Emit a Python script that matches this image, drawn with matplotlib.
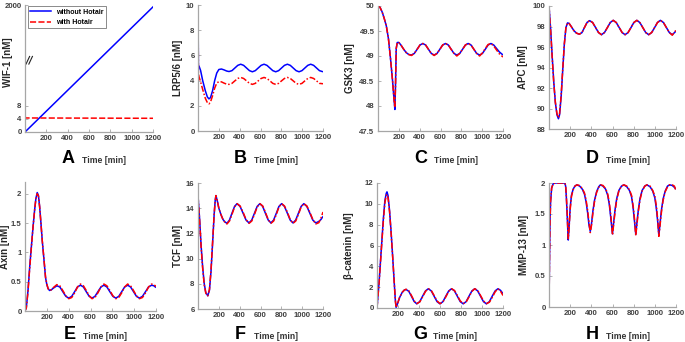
import numpy as np
import matplotlib
matplotlib.use("Agg")
import matplotlib.pyplot as plt
from matplotlib.ticker import FuncFormatter

plt.rcParams['font.family'] = ['Liberation Sans', 'DejaVu Sans']
plt.rcParams['font.weight'] = 'bold'

# ---- A: WIF-1 ----
wif_t_blue = [0, 1200]
wif_blue = [0, 1960]
wif_t_red = [0, 3, 1200]
wif_red = [10, 4.3, 4.2]

# ---- B: LRP5/6 ----
lrp_t = [0, 4, 10, 25, 45, 70, 90, 105, 120, 140, 160, 180, 200, 225, 250, 275, 298,
         326, 354, 382, 410, 438, 466, 494, 522, 550, 578, 606, 634, 662, 690, 718,
         746, 774, 802, 830, 858, 886, 914, 942, 970, 998, 1026, 1054, 1082, 1110,
         1138, 1166, 1200]
lrp_blue = [10, 5.2, 5.15, 4.8, 4.0, 3.2, 2.7, 2.55, 2.65, 3.2, 4.0, 4.6, 4.88, 4.92, 4.85, 4.76, 4.72,
            4.79, 5.0, 5.21, 5.3, 5.21, 5.0, 4.79, 4.7, 4.79, 5.0, 5.21, 5.3, 5.21, 5.0, 4.79,
            4.7, 4.79, 5.0, 5.21, 5.3, 5.21, 5.0, 4.79, 4.7, 4.79, 5.0, 5.21, 5.3, 5.21,
            5.0, 4.79, 4.7]
lrp_red = [10, 4.6, 4.3, 3.9, 3.3, 2.6, 2.25, 2.15, 2.3, 2.8, 3.4, 3.8, 3.92, 3.9, 3.8, 3.72, 3.7,
           3.78, 3.98, 4.17, 4.25, 4.17, 3.98, 3.78, 3.7, 3.78, 3.98, 4.17, 4.25, 4.17, 3.98, 3.78,
           3.7, 3.78, 3.98, 4.17, 4.25, 4.17, 3.98, 3.78, 3.7, 3.78, 3.98, 4.17, 4.25, 4.17,
           3.98, 3.78, 3.75]

# ---- C: GSK3 ----
gsk_t = [0, 20, 40, 60, 80, 100, 120, 140, 155, 162, 168, 175, 185, 200, 220, 245, 270, 295,
         321, 348, 376, 403, 430, 457, 484, 512, 539, 566, 594, 621, 648, 675, 702, 730,
         757, 784, 812, 839, 866, 893, 920, 948, 975, 1002, 1030, 1057, 1084, 1111,
         1138, 1166, 1200]
gsk_blue = [50.0, 49.97, 49.88, 49.75, 49.6, 49.35, 48.95, 48.5, 48.1, 47.93, 48.4, 49.15, 49.27, 49.27,
            49.22, 49.14, 49.07, 49.03,
            49.02, 49.05, 49.135, 49.22, 49.25, 49.22, 49.135, 49.05, 49.02, 49.05, 49.135, 49.22,
            49.25, 49.22, 49.135, 49.05, 49.02, 49.05, 49.135, 49.22, 49.25, 49.22, 49.135,
            49.05, 49.02, 49.05, 49.135, 49.22, 49.25, 49.22, 49.15, 49.08, 49.02]
gsk_red = [50.0, 49.97, 49.88, 49.75, 49.6, 49.35, 48.95, 48.5, 48.1, 47.97, 48.4, 49.15, 49.27, 49.27,
           49.22, 49.14, 49.07, 49.03,
           49.01, 49.05, 49.135, 49.22, 49.25, 49.22, 49.135, 49.05, 49.01, 49.05, 49.135, 49.22,
           49.25, 49.22, 49.135, 49.05, 49.0, 49.05, 49.135, 49.22, 49.25, 49.22, 49.135,
           49.05, 49.0, 49.06, 49.15, 49.23, 49.25, 49.2, 49.12, 49.04, 48.98]

# ---- D: APC ----
apc_t = [0, 15, 30, 45, 60, 75, 89, 100, 115, 130, 145, 160, 175, 190, 210, 235, 260, 287,
         311, 335, 360, 384, 412, 440, 468, 496, 524, 552, 579, 607, 635, 663, 691, 719,
         747, 775, 802, 830, 858, 886, 914, 942, 970, 998, 1025, 1053, 1081, 1109, 1137,
         1165, 1200]
apc_blue = [100, 97.8, 95.1, 92.6, 90.6, 89.4, 89.0, 89.4, 91.2, 93.8, 96.3, 97.9, 98.35, 98.3, 98.0,
            97.6, 97.35, 97.25,
            97.4, 97.9, 98.4, 98.57, 98.39, 97.9, 97.41, 97.2, 97.41, 97.9, 98.39, 98.6, 98.39,
            97.9, 97.41, 97.2, 97.41, 97.9, 98.39, 98.6, 98.39, 97.9, 97.41, 97.2, 97.41, 97.9,
            98.39, 98.6, 98.39, 97.9, 97.41, 97.2, 97.55]
apc_red = [100, 97.7, 95.0, 92.5, 90.6, 89.5, 89.1, 89.5, 91.3, 93.9, 96.3, 97.9, 98.35, 98.3, 98.0,
           97.6, 97.35, 97.25,
           97.4, 97.9, 98.4, 98.57, 98.39, 97.9, 97.41, 97.2, 97.41, 97.9, 98.39, 98.6, 98.39,
           97.9, 97.41, 97.2, 97.41, 97.9, 98.39, 98.6, 98.39, 97.9, 97.41, 97.2, 97.41, 97.9,
           98.39, 98.6, 98.39, 97.9, 97.41, 97.15, 97.65]

# ---- E: Axin ----
axin_t = [0, 12, 27, 43, 58, 73, 88, 100, 112, 123, 134, 146, 158, 173, 188, 200, 212, 225, 240,
          260, 292, 319, 346, 374, 401, 428, 455, 481, 508, 535, 561, 588, 614, 641, 668,
          696, 723, 750, 777, 805, 832, 859, 886, 913, 940, 967, 994, 1021, 1048, 1076,
          1104, 1132, 1160, 1180, 1200]
axin_blue = [0, 0.06, 0.34, 0.75, 1.09, 1.42, 1.72, 1.92, 2.02, 1.97, 1.78, 1.5, 1.2, 0.89, 0.57,
             0.45, 0.38, 0.35, 0.36, 0.39, 0.43, 0.41, 0.33, 0.25, 0.22, 0.25, 0.33, 0.41, 0.44,
             0.41, 0.33, 0.25, 0.22, 0.25, 0.33, 0.41, 0.44, 0.41, 0.33, 0.25, 0.22, 0.25, 0.33,
             0.41, 0.44, 0.41, 0.33, 0.25, 0.22, 0.25, 0.33, 0.41, 0.44, 0.43, 0.40]
axin_red = [0, 0.05, 0.32, 0.73, 1.08, 1.42, 1.72, 1.92, 2.0, 1.96, 1.78, 1.5, 1.2, 0.9, 0.58,
            0.46, 0.38, 0.35, 0.36, 0.4, 0.45, 0.43, 0.35, 0.26, 0.21, 0.23, 0.31, 0.41, 0.46,
            0.43, 0.35, 0.26, 0.21, 0.23, 0.31, 0.41, 0.46, 0.43, 0.35, 0.26, 0.21, 0.23, 0.31,
            0.41, 0.46, 0.43, 0.35, 0.26, 0.21, 0.23, 0.31, 0.41, 0.46, 0.45, 0.42]

# ---- F: TCF ----
tcf_t = [0, 15, 30, 45, 60, 75, 94, 110, 125, 140, 155, 165, 172, 185, 200, 220, 240, 260, 278,
         302, 326, 351, 375, 404, 433, 461, 490, 516, 542, 568, 594, 621, 647, 674, 700,
         726, 752, 777, 803, 830, 858, 885, 912, 938, 964, 990, 1016, 1045, 1074, 1102,
         1131, 1160, 1180, 1200]
tcf_blue = [15.0, 13.2, 11.0, 9.3, 8.0, 7.3, 7.05, 7.5, 9.0, 11.2, 13.5, 14.6, 15.0, 14.6, 14.0,
            13.5, 13.1, 12.9, 12.8, 13.06, 13.6, 14.14, 14.36, 14.14, 13.6, 13.06, 12.83, 13.06,
            13.6, 14.14, 14.36, 14.14, 13.6, 13.06, 12.83, 13.06, 13.6, 14.14, 14.36, 14.14,
            13.6, 13.06, 12.83, 13.06, 13.6, 14.14, 14.36, 14.14, 13.6, 13.06, 12.83, 12.95,
            13.1, 13.35]
tcf_red = [15.0, 13.1, 10.9, 9.2, 7.9, 7.25, 7.05, 7.55, 9.1, 11.3, 13.5, 14.6, 15.0, 14.6, 14.0,
           13.5, 13.1, 12.85, 12.75, 12.98, 13.5, 14.1, 14.36, 14.18, 13.68, 13.1, 12.8, 12.98,
           13.5, 14.1, 14.36, 14.18, 13.68, 13.1, 12.8, 12.98, 13.5, 14.1, 14.36, 14.18,
           13.68, 13.1, 12.8, 12.98, 13.5, 14.1, 14.36, 14.18, 13.68, 13.1, 12.75, 12.85,
           13.2, 13.7]

# ---- G: beta-catenin ----
bcat_t = [0, 20, 40, 60, 75, 88, 95, 105, 120, 135, 150, 165, 175, 182, 195, 215, 240, 260, 277,
          303, 328, 354, 379, 407, 434, 462, 489, 517, 544, 572, 600, 628, 655, 683, 710,
          738, 765, 793, 821, 849, 876, 904, 931, 959, 986, 1014, 1042, 1070, 1097, 1125,
          1152, 1176, 1200]
bcat_blue = [0, 2.5, 5.5, 8.5, 10.3, 11.0, 11.15, 10.8, 9.3, 7.2, 4.8, 2.3, 0.7, 0.05, 0.4, 1.0,
             1.5, 1.72, 1.78, 1.6, 1.13, 0.62, 0.4, 0.61, 1.13, 1.64, 1.85, 1.64, 1.13, 0.61, 0.4,
             0.61, 1.13, 1.64, 1.85, 1.64, 1.13, 0.61, 0.4, 0.61, 1.13, 1.64, 1.85, 1.64, 1.13,
             0.61, 0.4, 0.61, 1.13, 1.64, 1.85, 1.7, 1.38]
bcat_red = [0, 2.4, 5.4, 8.3, 10.1, 10.8, 10.9, 10.6, 9.2, 7.1, 4.8, 2.3, 0.7, 0.05, 0.4, 1.0,
            1.5, 1.72, 1.8, 1.65, 1.2, 0.68, 0.42, 0.58, 1.06, 1.6, 1.85, 1.68, 1.2, 0.68, 0.42,
            0.58, 1.06, 1.6, 1.85, 1.68, 1.2, 0.68, 0.42, 0.58, 1.06, 1.6, 1.85, 1.68, 1.2,
            0.68, 0.42, 0.55, 1.0, 1.55, 1.85, 1.62, 1.2]

# ---- H: MMP-13 ----
mmp_t = [0, 5, 10, 15, 25, 40, 60, 150, 157, 163, 170, 176, 182, 190, 200, 212, 228, 245, 263,
         290, 315, 335, 350, 365, 378, 390, 402, 415, 430, 450, 470, 486, 510, 535, 555, 570,
         585, 600, 612, 625, 640, 660, 685, 708, 735, 760, 780, 795, 808, 820, 832, 845,
         860, 880, 905, 925, 955, 980, 1000, 1015, 1028, 1038, 1050, 1063, 1078, 1098,
         1120, 1140, 1165, 1185, 1200]
mmp_blue = [0, 0.8, 1.4, 1.7, 1.92, 1.99, 2.0, 2.0, 1.95, 1.8, 1.55, 1.3, 1.08, 1.3, 1.6, 1.8, 1.9,
            1.95, 1.97, 1.95, 1.9, 1.82, 1.7, 1.52, 1.32, 1.22, 1.35, 1.55, 1.72, 1.86, 1.94,
            1.97, 1.95, 1.9, 1.8, 1.65, 1.42, 1.18, 1.38, 1.58, 1.75, 1.88, 1.95, 1.97, 1.94,
            1.88, 1.78, 1.6, 1.38, 1.17, 1.38, 1.58, 1.75, 1.88, 1.95, 1.97, 1.94, 1.87, 1.76,
            1.58, 1.36, 1.15, 1.36, 1.57, 1.74, 1.87, 1.95, 1.97, 1.96, 1.93, 1.9]
mmp_red = [0, 0.78, 1.38, 1.7, 1.92, 1.99, 2.0, 2.0, 1.96, 1.82, 1.58, 1.33, 1.1, 1.28, 1.57, 1.78,
           1.89, 1.95, 1.97, 1.96, 1.91, 1.84, 1.73, 1.56, 1.36, 1.2, 1.32, 1.52, 1.7, 1.85,
           1.93, 1.97, 1.96, 1.91, 1.82, 1.68, 1.46, 1.16, 1.35, 1.55, 1.73, 1.87, 1.95, 1.97, 1.95,
           1.89, 1.8, 1.63, 1.42, 1.15, 1.35, 1.55, 1.73, 1.87, 1.95, 1.97, 1.95, 1.88, 1.79, 1.62,
           1.4, 1.14, 1.33, 1.54, 1.72, 1.86, 1.94, 1.97, 1.97, 1.95, 1.87]

BLUE = '#0000ff'
RED = '#ff0000'
SPINE = '#a6a6a6'
TXT = '#404040'
RED_LS = (0, (4, 1.3, 1, 1.3))

W, H = 685, 342
fig = plt.figure(figsize=(W / 100, H / 100), dpi=100)


def add_panel(l, r, t, b):
    return fig.add_axes([l / W, 1 - b / H, (r - l) / W, (b - t) / H])


def style(ax, ylabel, letter, ylab_x, base_px):
    for s in ('top', 'right'):
        ax.spines[s].set_visible(False)
    for s in ('left', 'bottom'):
        ax.spines[s].set_color(SPINE)
        ax.spines[s].set_linewidth(0.9)
    ax.set_xlim(0, 1200)
    ax.set_xticks([200, 400, 600, 800, 1000, 1200])
    ax.tick_params(direction='in', length=2, width=0.6, color=SPINE,
                   labelsize=5.6, labelcolor=TXT, pad=2.5)
    for lab in ax.get_xticklabels() + ax.get_yticklabels():
        lab.set_fontweight('bold')
    ax.yaxis.set_major_formatter(FuncFormatter(lambda v, p: '{:g}'.format(v)))
    ax.set_ylabel(ylabel, fontsize=7, fontweight='bold', color='#262626')
    ax.yaxis.set_label_coords(ylab_x, 0.5)
    # panel letter and x-label share a baseline given in figure pixels
    x0, x1 = ax.get_position().x0, ax.get_position().x1
    yb = 1 - base_px / H
    fig.text(x0 + 0.34 * (x1 - x0), yb, letter, fontsize=13, fontweight='bold',
             ha='center', va='baseline', color='black')
    fig.text(x0 + 0.445 * (x1 - x0), yb, 'Time [min]', fontsize=6.2,
             fontweight='bold', ha='left', va='baseline', color='#333333')


def draw(ax, t_b, yb, t_r, yr):
    ax.plot(t_b, yb, color=BLUE, lw=1.1, solid_capstyle='butt')
    ax.plot(t_r, yr, color=RED, lw=1.1, ls=RED_LS)


# panel A with broken axis scale
LOW = 10.0
FR = 0.257


def fwd(y):
    y = np.asarray(y, dtype=float)
    return np.where(y <= LOW, y / LOW * FR, FR + (y - LOW) / (2000 - LOW) * (1 - FR))


def inv(f):
    f = np.asarray(f, dtype=float)
    return np.where(f <= FR, f / FR * LOW, LOW + (f - FR) / (1 - FR) * (2000 - LOW))


axA = add_panel(25, 153, 5, 132)
axA.set_yscale('function', functions=(fwd, inv))
axA.set_ylim(0, 2000)
lb, = axA.plot(wif_t_blue, wif_blue, color=BLUE, lw=1.1, label='without Hotair')
lr, = axA.plot(wif_t_red, wif_red, color=RED, lw=1.1, ls=(0, (4, 1.5)), label='with Hotair')
axA.set_yticks([0, 4, 8, 2000])
style(axA, 'WIF-1 [nM]', 'A', -0.095, 163)
axA.set_yticks([0, 4, 8, 2000])
axA.yaxis.set_major_formatter(FuncFormatter(lambda v, p: '{:g}'.format(v)))
axA.yaxis.set_label_coords(-0.095, 0.55)
for dx in (0.0, 0.022):
    axA.plot([0.008 + dx, 0.036 + dx], [0.535, 0.595], transform=axA.transAxes,
             color='#222222', lw=0.8, clip_on=False)
leg = axA.legend(loc='upper left', fontsize=5, frameon=True, fancybox=False,
                 handlelength=3.0, borderpad=0.35, labelspacing=0.45,
                 bbox_to_anchor=(0.01, 1.0), borderaxespad=0.2)
leg.get_frame().set_edgecolor('#555555')
leg.get_frame().set_linewidth(0.6)
for txt in leg.get_texts():
    txt.set_fontweight('bold')

# panel B
axB = add_panel(198, 323, 5, 131)
draw(axB, lrp_t, lrp_blue, lrp_t, lrp_red)
axB.set_ylim(0, 10)
axB.set_yticks([0, 2, 4, 6, 8, 10])
style(axB, 'LRP5/6 [nM]', 'B', -0.12, 163)

# panel C
axC = add_panel(378, 503, 6, 131)
draw(axC, gsk_t, gsk_blue, gsk_t, gsk_red)
axC.set_ylim(47.5, 50)
axC.set_yticks([47.5, 48, 48.5, 49, 49.5, 50])
style(axC, 'GSK3 [nM]', 'C', -0.184, 163)

# panel D
axD = add_panel(549, 676, 6, 129)
draw(axD, apc_t, apc_blue, apc_t, apc_red)
axD.set_ylim(88, 100)
axD.set_yticks([88, 90, 92, 94, 96, 98, 100])
style(axD, 'APC [nM]', 'D', -0.165, 163)

# panel E
axE = add_panel(25, 156, 182, 311)
draw(axE, axin_t, axin_blue, axin_t, axin_red)
axE.set_ylim(0, 2.2)
axE.set_yticks([0, 0.5, 1, 1.5, 2])
style(axE, 'Axin [nM]', 'E', -0.115, 339)

# panel F
axF = add_panel(198, 323, 183, 309)
draw(axF, tcf_t, tcf_blue, tcf_t, tcf_red)
axF.set_ylim(6, 16)
axF.set_yticks([6, 8, 10, 12, 14, 16])
style(axF, 'TCF [nM]', 'F', -0.12, 339)

# panel G
axG = add_panel(377, 503, 183, 308)
draw(axG, bcat_t, bcat_blue, bcat_t, bcat_red)
axG.set_ylim(0, 12)
axG.set_yticks([0, 2, 4, 6, 8, 10, 12])
style(axG, '\u03b2-catenin [nM]', 'G', -0.184, 339)

# panel H
axH = add_panel(549, 676, 183, 307)
draw(axH, mmp_t, mmp_blue, mmp_t, mmp_red)
axH.set_ylim(0, 2)
axH.set_yticks([0, 0.5, 1, 1.5, 2])
style(axH, 'MMP-13 [nM]', 'H', -0.157, 339)

fig.savefig('out.png', dpi=100)
